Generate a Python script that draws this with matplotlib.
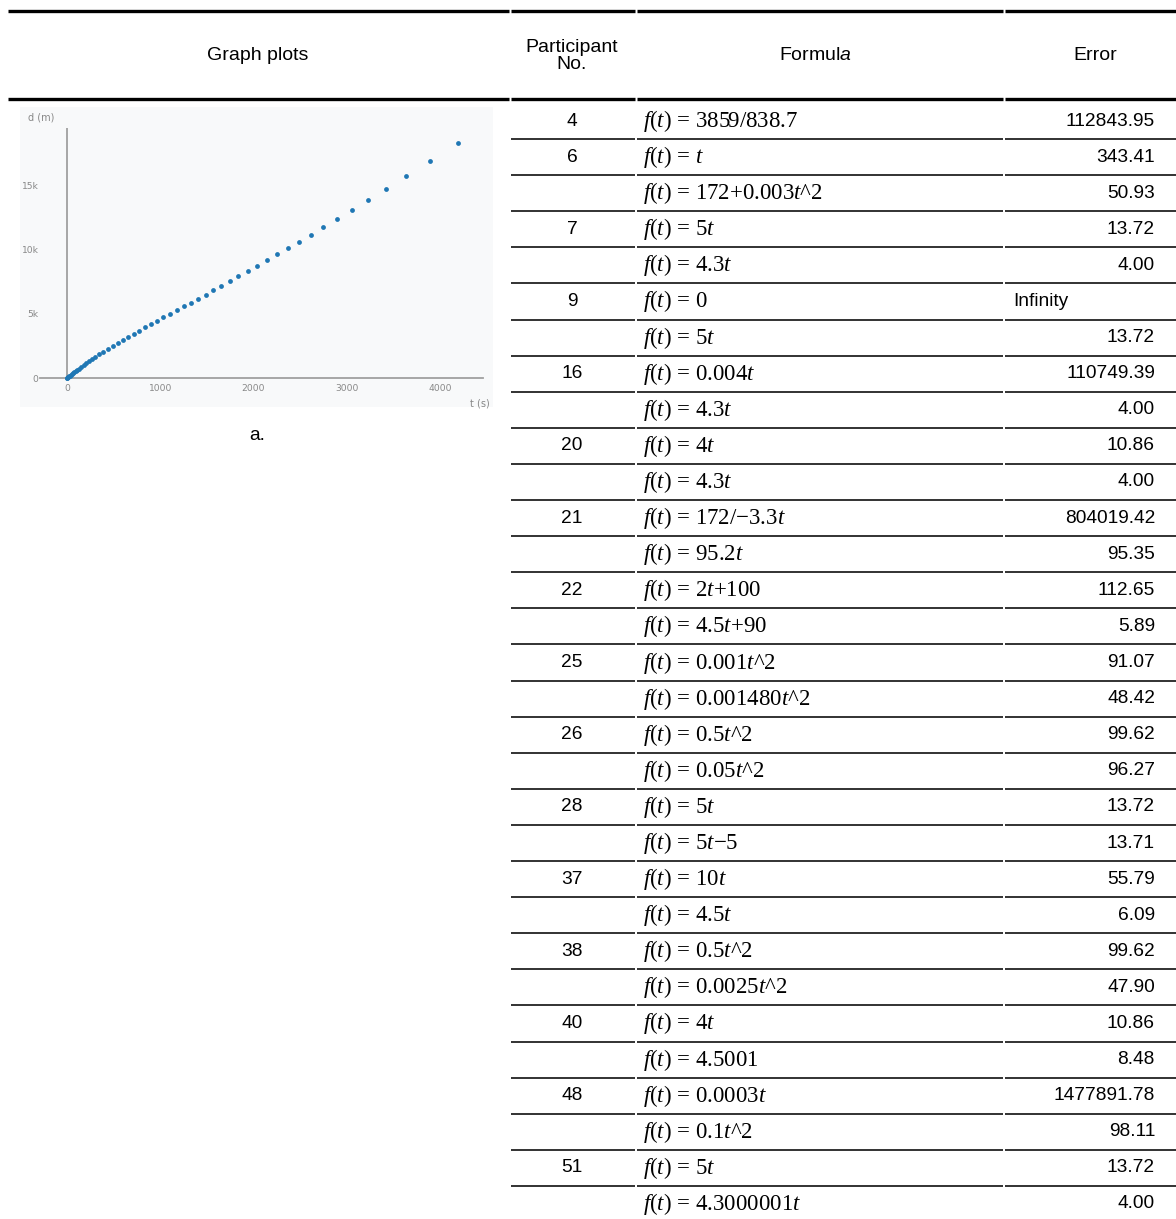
import matplotlib
matplotlib.use('Agg')
import matplotlib.pyplot as plt
from matplotlib.patches import Rectangle

W, H = 1176, 1219

# ---------------- data ----------------
headers = ['Graph plots', 'Participant\nNo.', 'Formul$\\mathsf{a}$', 'Error']
participants = ['4', '6', '', '7', '', '9', '', '16', '', '20', '', '21', '', '22', '',
                '25', '', '26', '', '28', '', '37', '', '38', '', '40', '', '48', '', '51', '']
formulas = ['f(t) = 3859/838.7', 'f(t) = t', 'f(t) = 172+0.003t^2', 'f(t) = 5t', 'f(t) = 4.3t',
            'f(t) = 0', 'f(t) = 5t', 'f(t) = 0.004t', 'f(t) = 4.3t', 'f(t) = 4t', 'f(t) = 4.3t',
            'f(t) = 172/\u22123.3t', 'f(t) = 95.2t', 'f(t) = 2t+100', 'f(t) = 4.5t+90',
            'f(t) = 0.001t^2', 'f(t) = 0.001480t^2', 'f(t) = 0.5t^2', 'f(t) = 0.05t^2',
            'f(t) = 5t', 'f(t) = 5t\u22125', 'f(t) = 10t', 'f(t) = 4.5t', 'f(t) = 0.5t^2',
            'f(t) = 0.0025t^2', 'f(t) = 4t', 'f(t) = 4.5001', 'f(t) = 0.0003t', 'f(t) = 0.1t^2',
            'f(t) = 5t', 'f(t) = 4.3000001t']
errors = ['112843.95', '343.41', '50.93', '13.72', '4.00', 'Infinity', '13.72', '110749.39',
          '4.00', '10.86', '4.00', '804019.42', '95.35', '112.65', '5.89', '91.07', '48.42',
          '99.62', '96.27', '13.72', '13.71', '55.79', '6.09', '99.62', '47.90', '10.86',
          '8.48', '1477891.78', '98.11', '13.72', '4.00']

t_vals = [1, 4, 9, 15, 22, 30, 39, 50, 62, 76, 92, 110, 130, 153, 178, 205, 235, 268, 305, 345,
          390, 440, 493, 547, 601, 658, 715, 776, 836, 901, 965, 1033, 1105, 1176, 1251, 1330,
          1408, 1487, 1569, 1655, 1744, 1837, 1937, 2038, 2141, 2256, 2370, 2484, 2617, 2749,
          2899, 3060, 3231, 3421, 3639, 3896, 4193]
d_vals = [5, 23, 52, 88, 128, 175, 225, 290, 360, 440, 530, 630, 740, 865, 1000, 1150, 1300,
          1470, 1650, 1840, 2047, 2280, 2513, 2746, 2979, 3212, 3472, 3705, 3964, 4197, 4456,
          4741, 5026, 5311, 5596, 5881, 6192, 6503, 6839, 7202, 7565, 7979, 8368, 8782, 9223,
          9663, 10155, 10622, 11192, 11762, 12409, 13135, 13912, 14767, 15777, 16943, 18368]
x_ticks = [0, 1000, 2000, 3000, 4000]
x_tick_labels = ['0', '1000', '2000', '3000', '4000']
y_ticks = [0, 5000, 10000, 15000]
y_tick_labels = ['0', '5k', '10k', '15k']

# ---------------- style ----------------
NARROW = ['Liberation Sans Narrow', 'Liberation Sans', 'DejaVu Sans']
SERIF = ['Liberation Serif', 'DejaVu Serif']
plt.rcParams['mathtext.fontset'] = 'custom'
plt.rcParams['mathtext.rm'] = 'Liberation Serif'
plt.rcParams['mathtext.it'] = 'Liberation Serif:italic'
plt.rcParams['mathtext.sf'] = 'Liberation Sans:italic'


def to_math(s):
    s = s.replace('f(t)', '\x01')
    s = s.replace('t', '$t$')
    return s.replace('\x01', '$f$($t$)')


fig = plt.figure(figsize=(W / 100, H / 100), dpi=100)
base = fig.add_axes([0, 0, 1, 1])
base.set_xlim(0, W)
base.set_ylim(H, 0)
base.axis('off')

# header rules
for y, lw in [(11, 2.4), (99, 2.4)]:
    base.plot([8, 509], [y, y], color='black', lw=lw, solid_capstyle='butt')
    base.plot([511, 635], [y, y], color='black', lw=lw, solid_capstyle='butt')
    base.plot([637, 1003], [y, y], color='black', lw=lw, solid_capstyle='butt')
    base.plot([1005, 1176], [y, y], color='black', lw=lw, solid_capstyle='butt')

head_fs = 14
num_fs = 13.8
form_fs = 16.5
NUM_X = 572
base.text(258, 56, headers[0], ha='center', va='center', fontsize=head_fs, family=NARROW)
base.text(NUM_X, 56, headers[1], ha='center', va='center', fontsize=head_fs, family=NARROW,
          linespacing=0.95)
base.text(815, 56, headers[2], ha='center', va='center', fontsize=head_fs, family=NARROW)
base.text(1095, 56, headers[3], ha='center', va='center', fontsize=head_fs, family=NARROW)

row_h = 36.1
y0 = 121
for i, (p, f, e) in enumerate(zip(participants, formulas, errors)):
    yc = y0 + i * row_h
    if p:
        base.text(NUM_X, yc, p, ha='center', va='center', fontsize=num_fs, family=NARROW)
    base.text(643, yc, to_math(f), ha='left', va='center', fontsize=form_fs, family=SERIF)
    if e == 'Infinity':
        base.text(1041, yc, e, ha='center', va='center', fontsize=num_fs, family=NARROW)
    else:
        base.text(1155, yc, e, ha='right', va='center', fontsize=num_fs, family=NARROW)
    if i < len(participants) - 1:
        yl = yc + row_h / 2
        for a, b in [(511, 635), (637, 1003), (1005, 1176)]:
            base.plot([a, b], [yl, yl], color='#222222', lw=1.3, solid_capstyle='butt')

# plot image background
base.add_patch(Rectangle((20, 107), 473, 300, facecolor='#f8f9fa', edgecolor='none'))
base.text(257, 436, 'a.', ha='center', va='center', fontsize=num_fs, family=NARROW)

# ---------------- scatter plot ----------------
L, R, T, B = 40, 483, 128, 378
ax = fig.add_axes([L / W, 1 - B / H, (R - L) / W, (B - T) / H])
ax.set_facecolor('none')
ax.set_xlim(-289.5, 4461)
ax.set_ylim(0, 19531)
for s in ['top', 'right', 'left']:
    ax.spines[s].set_visible(False)
ax.spines['bottom'].set_color('#a0a0a0')
ax.spines['bottom'].set_linewidth(1.3)
ax.axvline(0, color='#a0a0a0', lw=1.3)
ax.scatter(t_vals, d_vals, s=12, color='#1f77b4', linewidths=0, zorder=3, clip_on=False)
ax.set_xticks(x_ticks)
ax.set_xticklabels(x_tick_labels)
ax.set_yticks(y_ticks)
ax.set_yticklabels(y_tick_labels)
ax.tick_params(axis='both', length=0, labelsize=6.6, labelcolor='#888888')
ax.tick_params(axis='x', pad=4)
ax.tick_params(axis='y', pad=1)
base.text(28, 117, 'd (m)', ha='left', va='center', fontsize=7, color='#888888')
base.text(470, 404, 't (s)', ha='left', va='center', fontsize=7, color='#888888')

fig.savefig('out.png', dpi=100)
